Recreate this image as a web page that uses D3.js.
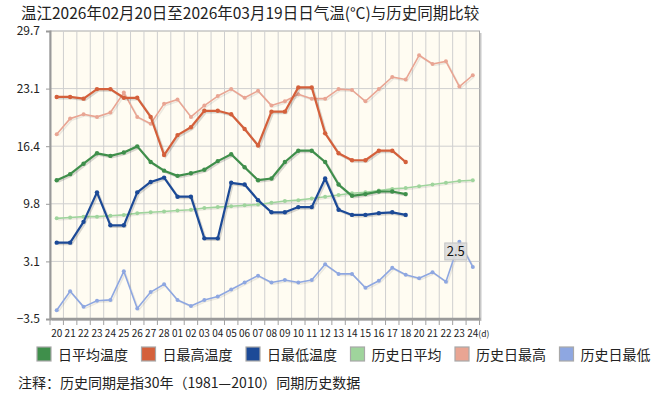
<!DOCTYPE html>
<html>
<head>
<meta charset="utf-8">
<script src="https://cdn.jsdelivr.net/npm/d3@7"></script>
<style>
  body { margin: 0; background: #fff; }
  text { font-family: "Noto Sans CJK SC", "Noto Sans", sans-serif; }
</style>
</head>
<body>
<div id="chart"></div>
<script>
const TITLE = "温江2026年02月20日至2026年03月19日日气温(°C)与历史同期比较"
const NOTE = "注释：历史同期是指30年（1981—2010）同期历史数据"

const dayLabels = ["20","21","22","23","24","25","26","27","28","01","02","03","04","05","06","07","08","09","10","11","12","13","14","15","16","17","18","20","21","22","23","24"]
const xUnit = "(d)"
const yTicks = [-3.5, 3.14, 9.78, 16.42, 23.06, 29.7]

const avgTemp = [12.5,13.2,14.4,15.6,15.3,15.7,16.4,14.6,13.6,13.0,13.3,13.7,14.7,15.5,14.0,12.5,12.7,14.6,15.9,15.9,14.6,12.0,10.7,10.9,11.2,11.2,10.9]
const maxTemp = [22.1,22.1,21.9,23.0,23.0,22.0,22.0,19.8,15.4,17.7,18.6,20.5,20.5,20.1,18.4,16.5,20.4,20.4,23.2,23.2,17.9,15.6,14.8,14.8,15.9,15.9,14.6]
const minTemp = [5.3,5.3,7.7,11.1,7.3,7.3,11.1,12.3,12.8,10.6,10.6,5.8,5.8,12.2,12.0,10.2,8.8,8.8,9.4,9.4,12.7,9.1,8.5,8.5,8.7,8.8,8.5]
const histAvg = [8.1,8.2,8.3,8.3,8.4,8.5,8.7,8.8,8.9,9.0,9.1,9.3,9.4,9.5,9.6,9.7,9.9,10.1,10.2,10.4,10.6,10.8,11.0,11.1,11.3,11.5,11.6,11.8,12.0,12.2,12.4,12.5]
const histMax = [17.8,19.6,20.1,19.8,20.3,22.6,19.8,19.0,21.3,21.8,19.8,21.1,22.2,23.0,22.0,22.8,21.1,21.6,22.4,21.9,21.9,23.0,22.9,21.6,23.0,24.4,24.1,26.9,25.9,26.2,23.3,24.6]
const histMin = [-2.5,-0.3,-2.1,-1.4,-1.3,2.0,-2.3,-0.4,0.5,-1.3,-2.0,-1.3,-0.9,-0.1,0.7,1.5,0.7,1.0,0.7,1.0,2.8,1.7,1.7,0.1,0.9,2.4,1.6,1.2,1.9,0.8,5.4,2.5]

// legend order
const series = [
  { name: "日平均温度", values: avgTemp, color: "#3f8f4b", width: 2.2, hist: false },
  { name: "日最高温度", values: maxTemp, color: "#d4603b", width: 2.2, hist: false },
  { name: "日最低温度", values: minTemp, color: "#1c4a97", width: 2.2, hist: false },
  { name: "历史日平均", values: histAvg, color: "#9fd49c", width: 1.6, hist: true },
  { name: "历史日最高", values: histMax, color: "#e9a593", width: 1.6, hist: true },
  { name: "历史日最低", values: histMin, color: "#8ea7e1", width: 1.6, hist: true }
]

let width = 658, height = 396
let pLeft = 50, pRight = 479.5, pTop = 31, pBottom = 319

let svg = d3.select("#chart").append("svg").attr("width", width).attr("height", height)

svg.append("text").attr("x", 21).attr("y", 19).attr("font-size", "15.5px").attr("fill", "#222").text(TITLE)

let x = d3.scalePoint().domain(d3.range(dayLabels.length)).range([pLeft, pRight]).padding(0.5)
let y = d3.scaleLinear().domain([yTicks[0], yTicks[yTicks.length - 1]]).range([pBottom, pTop])
let step = x.step()

// plot frame + shadow
svg.append("rect").attr("x", pLeft + 2).attr("y", pTop + 2).attr("width", pRight - pLeft).attr("height", pBottom - pTop).attr("fill", "#c8c8c8")
svg.append("rect").attr("x", pLeft).attr("y", pTop).attr("width", pRight - pLeft).attr("height", pBottom - pTop)
  .attr("fill", "#fffcf2").attr("stroke", "#a9a9a9").attr("stroke-width", 1)

// grid
let grid = svg.append("g").attr("stroke", "#cfcfcf").attr("stroke-width", 1)
grid.selectAll("line.v").data(d3.range(1, dayLabels.length)).join("line").attr("class", "v")
  .attr("x1", d => pLeft + d * step).attr("x2", d => pLeft + d * step).attr("y1", pTop).attr("y2", pBottom)
grid.selectAll("line.h").data(yTicks.slice(1, -1)).join("line").attr("class", "h")
  .attr("x1", pLeft).attr("x2", pRight).attr("y1", d => y(d)).attr("y2", d => y(d))

// axes
let yAxis = d3.axisLeft(y).tickValues(yTicks).tickFormat(d3.format(".1f")).tickSize(4).tickPadding(6)
let gy = svg.append("g").attr("transform", `translate(${pLeft},0)`).call(yAxis)
gy.select(".domain").attr("stroke", "#9a9a9a").attr("stroke-width", 2)
gy.selectAll(".tick line").attr("stroke", "#9a9a9a")
gy.selectAll("text").attr("font-size", "12px").attr("fill", "#222").attr("font-family", "\"Noto Sans CJK SC\", sans-serif")

let gx = svg.append("g").attr("transform", `translate(0,${pBottom})`)
gx.append("line").attr("x1", pLeft).attr("x2", pRight + 1).attr("stroke", "#9a9a9a").attr("stroke-width", 2.5)
gx.selectAll("line.t").data(d3.range(0, dayLabels.length + 1)).join("line").attr("class", "t")
  .attr("x1", d => pLeft + d * step).attr("x2", d => pLeft + d * step).attr("y1", 0).attr("y2", 6)
  .attr("stroke", "#a0a0a0")
gx.selectAll("text").data(dayLabels).join("text")
  .attr("x", (d, i) => x(i)).attr("y", 18).attr("text-anchor", "middle")
  .attr("font-size", "10px").attr("fill", "#222").text(d => d)
// unit after the last day label
gx.append("text").attr("x", x(dayLabels.length - 1) + 5.5).attr("y", 18)
  .attr("font-size", "8.5px").attr("fill", "#222").text(xUnit)

// lines
let line = d3.line().x((d, i) => x(i)).y(d => y(d))
let order = [3, 4, 5, 0, 1, 2]
order.forEach(function (k) {
  let s = series[k]
  let g = svg.append("g")
  g.append("path").attr("d", line(s.values)).attr("fill", "none")
    .attr("stroke", "#000").attr("stroke-opacity", s.hist ? 0.08 : 0.15).attr("stroke-width", s.width)
    .attr("transform", "translate(1.5,1.5)")
  g.append("path").attr("d", line(s.values)).attr("fill", "none")
    .attr("stroke", s.color).attr("stroke-width", s.width).attr("stroke-linejoin", "round")
  g.selectAll("circle").data(s.values).join("circle")
    .attr("cx", (d, i) => x(i)).attr("cy", d => y(d)).attr("r", s.hist ? 2 : 2.2)
    .attr("fill", s.color)
})

// value label on last point of 历史日最低
let lastI = histMin.length - 1
let lx = x(lastI) - 17, ly = y(histMin[lastI]) - 16
svg.append("rect").attr("x", lx - 11).attr("y", ly - 8).attr("width", 22).attr("height", 17)
  .attr("fill", "#dcdcdc").attr("fill-opacity", 0.9).attr("stroke", "#c4c4c4")
svg.append("text").attr("x", lx).attr("y", ly + 5).attr("text-anchor", "middle")
  .attr("font-size", "13px").attr("fill", "#111").text(histMin[lastI].toFixed(1))

// legend
let lg = svg.append("g").attr("transform", "translate(37,347)")
series.forEach(function (s, i) {
  let gx0 = i * 104.5
  lg.append("rect").attr("x", gx0).attr("y", 0).attr("width", 14).attr("height", 14)
    .attr("fill", s.color).attr("stroke", "#a8a8a8").attr("stroke-width", 1.2)
  lg.append("text").attr("x", gx0 + 21).attr("y", 12.5).attr("font-size", "14px").attr("fill", "#222").text(s.name)
})

svg.append("text").attr("x", 18).attr("y", 388).attr("font-size", "14px").attr("fill", "#222").text(NOTE)
</script>
</body>
</html>
